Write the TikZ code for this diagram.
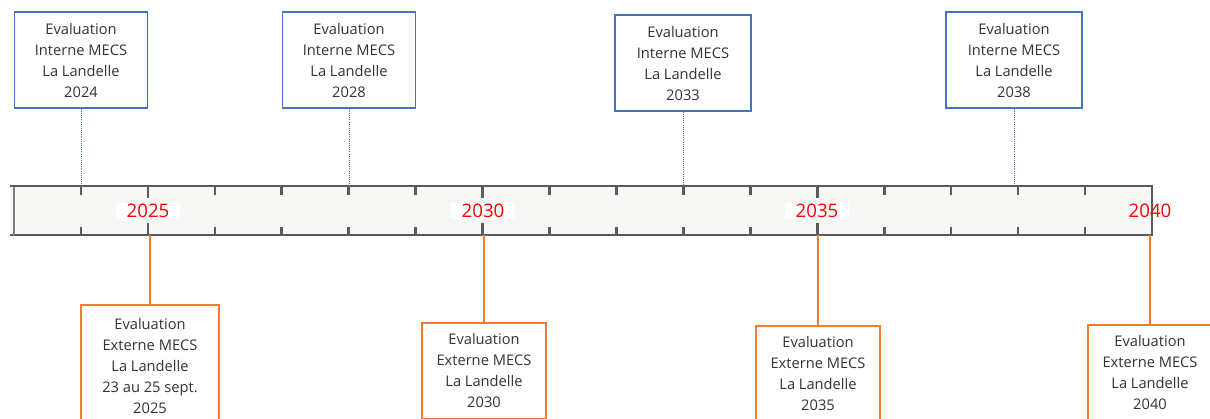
\documentclass[tikz,border=0pt]{standalone}
\usepackage{fontspec}
\setmainfont{Open Sans}
\usepackage{xcolor}
\definecolor{BoxBlue}{HTML}{4472C4}
\definecolor{BoxOrange}{HTML}{ED7D31}
\definecolor{BarFill}{HTML}{F7F7F5}
\definecolor{BarGray}{HTML}{5A5A5A}
\definecolor{TextGray}{HTML}{333333}
\usetikzlibrary{positioning}
\tikzset{
  interne/.style={draw=BoxBlue,line width=1.1pt,fill=white,align=center,text=TextGray,
    font=\fontsize{11}{15.75}\selectfont,minimum width=100pt,minimum height=72pt},
  externe/.style={draw=BoxOrange,line width=1.3pt,fill=white,align=center,text=TextGray,
    font=\fontsize{11}{15.75}\selectfont,minimum width=93pt,minimum height=72pt,anchor=north},
  annee/.style={fill=white,text=red,font=\fontsize{14}{14}\selectfont,inner xsep=8pt,inner ysep=0.5pt},
  lienbleu/.style={BoxBlue,line width=0.6pt,densely dotted},
  lienorange/.style={BoxOrange,line width=1.2pt},
  graduation/.style={BarGray,line width=2pt}
}
\begin{document}
\begin{tikzpicture}[x=0.75pt,y=-0.75pt]
  \useasboundingbox (0,0) rectangle (1210,418);
  % frise
  \fill[BarFill] (10,186) coordinate (haut) rectangle (1153,235) coordinate (bas);
  \draw[BarGray,line width=1.5pt] (10,186) -- (1153,186) (10,235) -- (1153,235);
  \draw[gray,line width=1.2pt] (14,187) -- (14,235);
  \draw[BarGray,line width=2.2pt] (1152,186) -- (1152,235);
  \foreach \k in {1,...,16}
    \draw[graduation] ({14.1+66.93*\k},186) -- ++(0,9) ({14.1+66.93*\k},235) -- ++(0,-8);
  \foreach \k in {2,7,12}
    \draw[graduation] ({14.1+66.93*\k},186) -- ++(0,12) ({14.1+66.93*\k},235) -- ++(0,-12);
  \node[annee] (a25) at (148,211) {2025};
  \node[annee] (a30) at (483,211) {2030};
  \node[annee] (a35) at (817,211) {2035};
  \node[annee,fill=none] (a40) at (1150,211) {2040};
  % evaluations internes
  \node[interne] (i24) at (81,60) {Evaluation\\Interne MECS\\La Landelle\\2024};
  \node[interne] (i28) at (349,60) {Evaluation\\Interne MECS\\La Landelle\\2028};
  \node[interne,minimum width=102pt] (i33) at (683,63) {Evaluation\\Interne MECS\\La Landelle\\2033};
  \node[interne,minimum width=102pt] (i38) at (1014,60) {Evaluation\\Interne MECS\\La Landelle\\2038};
  % evaluations externes
  \node[externe,minimum width=103pt,minimum height=92pt] (e25) at (150,304) {Evaluation\\Externe MECS\\La Landelle\\23 au 25 sept.\\2025};
  \node[externe] (e30) at (484,322) {Evaluation\\Externe MECS\\La Landelle\\2030};
  \node[externe] (e35) at (818,325) {Evaluation\\Externe MECS\\La Landelle\\2035};
  \node[externe] (e40) at (1150,324) {Evaluation\\Externe MECS\\La Landelle\\2040};
  \draw[lienbleu] (i24.south) -- (i24.south |- haut);
  \draw[lienbleu] (i28.south) -- (i28.south |- haut);
  \draw[lienbleu] (i33.south) -- (i33.south |- haut);
  \draw[lienbleu] (i38.south) -- (i38.south |- haut);
  \draw[lienorange] (e25.north) -- (e25.north |- bas);
  \draw[lienorange] (e30.north) -- (e30.north |- bas);
  \draw[lienorange] (e35.north) -- (e35.north |- bas);
  \draw[lienorange] (e40.north) -- (e40.north |- bas);
\end{tikzpicture}
\end{document}
